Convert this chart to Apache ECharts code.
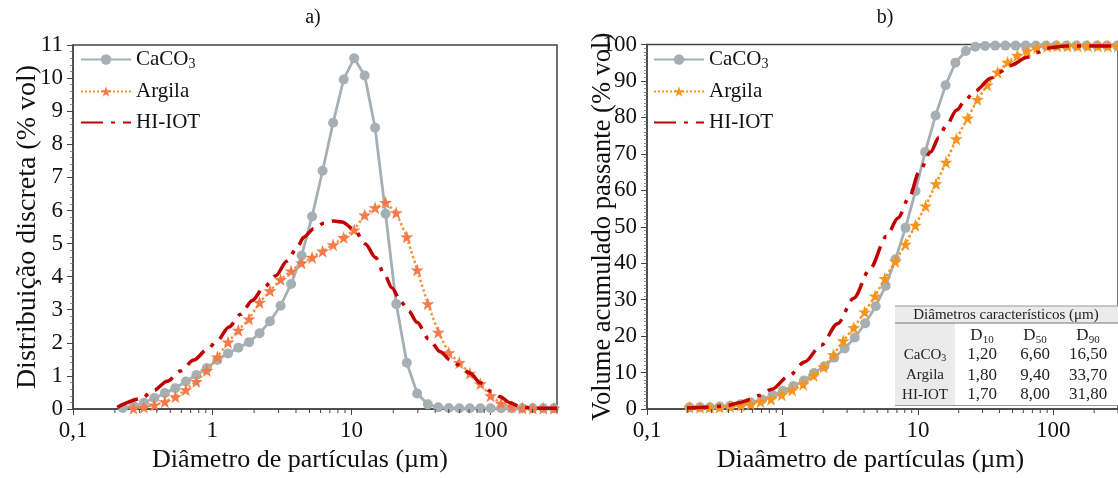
<!DOCTYPE html>
<html>
<head>
<meta charset="utf-8">
<script src="https://cdn.jsdelivr.net/npm/echarts@6/dist/echarts.min.js"></script>
<style>
html,body{margin:0;padding:0;background:#fff;}
#c{width:1118px;height:478px;}
</style>
</head>
<body>
<div id="c"></div>
<script>
// ---------- Data: (a) discrete distribution ----------
var gridDiamA = [0.228,0.272,0.323,0.384,0.457,0.544,0.647,0.77,0.916,1.09,1.30,1.54,1.84,2.19,2.6,3.1,3.69,4.39,5.22,6.21,7.39,8.8,10.47,12.46,14.8,17.6,21,25,29.7,35.4,42.1,50.1,59.6,70.9,84.4,100,119,142,169,201,239,285];
var caco3VolA = [0.03,0.09,0.19,0.33,0.48,0.63,0.83,1.03,1.24,1.48,1.68,1.85,2.02,2.29,2.65,3.12,3.78,4.64,5.82,7.20,8.65,9.96,10.60,10.08,8.50,5.90,3.17,1.40,0.47,0.14,0.05,0.03,0.02,0.02,0.02,0.02,0.02,0.02,0.02,0.02,0.02,0.02];
var argilaDiamA = [0.272,0.323,0.384,0.457,0.544,0.647,0.77,0.916,1.09,1.30,1.54,1.84,2.19,2.6,3.1,3.69,4.39,5.22,6.21,7.39,8.8,10.47,12.46,14.8,17.6,21,25,29.7,35.4,42.1,50.1,59.6,70.9,84.4,100,119,142,169,201,239,285];
var argilaVolA = [0.02,0.05,0.12,0.22,0.37,0.58,0.83,1.16,1.57,2.02,2.38,2.72,3.22,3.57,3.91,4.17,4.41,4.58,4.77,4.96,5.18,5.41,5.86,6.08,6.24,5.93,5.20,4.20,3.18,2.32,1.70,1.40,1.08,0.76,0.40,0.17,0.07,0.03,0.02,0.02,0.02];
var hiiotDiamA = [0.208,0.306,0.381,0.475,0.592,0.738,0.921,1.09,1.32,1.60,1.94,2.35,2.85,3.45,4.08,4.55,5.36,6.33,7.46,8.57,10.4,12.6,14.9,17.1,19.6,22.5,25.8,29.6,35.9,43.5,51.4,58.9,71.4,84.3,99.5,117,138,163,204,300];
var hiiotVolA = [0.05,0.31,0.56,0.84,1.15,1.48,1.80,2.07,2.48,2.86,3.28,3.67,4.02,4.47,4.89,5.19,5.45,5.61,5.68,5.65,5.44,4.99,4.58,4.10,3.66,3.26,2.96,2.62,2.12,1.73,1.48,1.33,1.08,0.79,0.54,0.37,0.19,0.07,0.02,0.02];

// ---------- Data: (b) cumulative passing ----------
var caco3DiamB = [0.206,0.246,0.291,0.344,0.411,0.493,0.583,0.708,0.847,1.005,1.20,1.44,1.71,2.04,2.41,2.88,3.42,4.08,4.88,5.78,6.83,8.1,9.6,11.3,13.5,16.0,18.9,22.6,26.5,31.3,37.2,44.2,52.6,62.5,74.3,88.3,105,125,148,176,210,249,296];
var caco3CumB = [0.5,0.5,0.5,0.7,0.9,1.3,1.8,2.6,3.8,5.0,6.3,7.8,9.9,11.7,14.1,16.6,19.6,23.5,28.2,33.8,41.1,49.7,59.8,70.5,80.5,88.8,95.0,98.2,99.4,99.6,99.7,99.7,99.7,99.7,99.7,99.7,99.7,99.7,99.7,99.7,99.7,99.7,99.7];
var argilaDiamB = [0.206,0.246,0.291,0.344,0.411,0.493,0.583,0.689,0.823,0.988,1.18,1.42,1.70,2.01,2.38,2.81,3.36,4.04,4.83,5.70,6.81,8.09,9.57,11.4,13.6,16.1,19.2,23.3,27.5,32.5,38.8,45.9,54.2,64.1,75.7,90,107,127,151,180,213,253,300];
var argilaCumB = [0.5,0.5,0.5,0.5,0.7,1.0,1.4,2.0,2.7,3.9,5.2,6.8,9.2,11.5,14.9,18.7,22.3,26.6,31.0,35.8,40.5,45.2,50.4,55.7,61.8,67.7,74.1,79.8,84.9,88.9,92.4,95.1,97.0,98.2,99.1,99.5,99.6,99.6,99.6,99.6,99.6,99.6,99.6];
var hiiotDiamB = [0.197,0.275,0.385,0.48,0.58,0.67,0.837,1.10,1.46,1.93,2.55,3.36,4.44,5.86,7.13,8.65,10.2,12.4,14.3,16.0,19.4,22.3,26.3,34.8,39.9,48.5,64.1,75.7,89,125,300];
var hiiotCumB = [0.3,0.5,0.9,1.7,2.6,3.7,5.4,8.9,12.9,17.5,23.4,30.4,38.5,47.4,52.4,58.2,65.0,70.5,74.5,77.5,82.0,84.7,87.2,90.8,92.4,94.3,96.5,97.8,99.0,99.6,99.6];

// ---------- Table ----------
var tableTitle = 'Diâmetros característicos (μm)';
var tableCols = ['10','50','90'];
var tableRows = ['CaCO3','Argila','HI-IOT'];
var tableD10 = ['1,20','1,80','1,70'];
var tableD50 = ['6,60','9,40','8,00'];
var tableD90 = ['16,50','33,70','31,80'];

// ---------- Ticks / labels ----------
var minorTicksX = [0.2,0.3,0.4,0.5,0.6,0.7,0.8,0.9,2,3,4,5,6,7,8,9,20,30,40,50,60,70,80,90,200,300];
var xTitleA = 'Diâmetro de partículas (µm)';
var xTitleB = 'Diaâmetro de partículas (µm)';
var yTitleA = 'Distribuição discreta (% vol)';
var yTitleB = 'Volume acumulado passante (% vol)';

function pairs(xs, ys){ return xs.map(function(x,i){ return [x, ys[i]]; }); }

var FONT = '"Liberation Serif","Times New Roman",serif';
var AXC = '#444';
var GRAY = '#A6AFB3';
var RED = '#C00000';
var CORAL = '#F47A4C';
var CORAL_LINE = '#F0963C';
var ORANGE = '#F7941D';
var DASHDOT = [22,8,4,8];
var STAR = 'path://M50,0 L61.8,35.1 L98.9,35.5 L69.1,57.6 L80.2,93 L50,71.5 L19.8,93 L30.9,57.6 L1.1,35.5 L38.2,35.1 Z';

function xAxisCfg(idx, name, shiftPad){
  return {
    type:'log', gridIndex: idx, min:0.1, max:300, logBase:10,
    name: name, nameLocation:'middle', nameGap: 38, nameMoveOverlap:false,
    nameTextStyle:{fontFamily:FONT, fontSize:26, color:'#111', padding:[0, shiftPad, 0, 0]},
    axisLine:{show:true, onZero:false, lineStyle:{color:AXC, width:1.5}},
    axisTick:{show:true, length:6, lineStyle:{color:AXC, width:1}},
    minorTick:{show:false},
    splitLine:{show:false}, minorSplitLine:{show:false},
    axisLabel:{fontFamily:FONT, fontSize:23, color:'#111', margin:10, showMaxLabel:false,
      formatter:function(v){ return v > 200 ? '' : String(v).replace('.', ','); }}
  };
}
function yAxisCfg(idx, name, max, interval, minorSplit, gap, nameSize){
  return {
    type:'value', gridIndex: idx, min:0, max:max, interval:interval,
    name: name, nameLocation:'middle', nameGap: gap, nameMoveOverlap:false,
    nameTextStyle:{fontFamily:FONT, fontSize:nameSize, color:'#111'},
    axisLine:{show:true, lineStyle:{color:AXC, width:1.5}},
    axisTick:{show:true, length:6, lineStyle:{color:AXC, width:1}},
    minorTick:{show:true, splitNumber:minorSplit, length:3, lineStyle:{color:'#777', width:0.8}},
    splitLine:{show:false},
    axisLabel:{fontFamily:FONT, fontSize:23, color:'#111', margin:10}
  };
}

function legendCfg(left, argColor, argLine){
  return {
    orient:'vertical', left:left, top:49, padding:0, itemWidth:50, itemHeight:13, itemGap:10,
    textStyle:{fontFamily:FONT, fontSize:21, color:'#111',
      rich:{n:{fontFamily:FONT, fontSize:21, color:'#111'}, s:{fontFamily:FONT, fontSize:14, color:'#111', padding:[9,0,0,0]}}},
    formatter:function(name){ return name === 'CaCO3' ? '{n|CaCO}{s|3}' : name; },
    data:[
      {name:'CaCO3'},
      {name:'Argila', itemStyle:{color:argColor}, lineStyle:{color:argLine}},
      {name:'HI-IOT', itemStyle:{color:'rgba(0,0,0,0)', borderWidth:0, opacity:0}}
    ]
  };
}

function minorTickSeries(idx){
  return {
    type:'custom', xAxisIndex:idx, yAxisIndex:idx, silent:true, clip:false, z:10,
    data: minorTicksX.map(function(v){ return [v, 0]; }),
    renderItem:function(params, api){
      var p = api.coord([api.value(0), 0]);
      return {type:'line', shape:{x1:p[0], y1:p[1], x2:p[0], y2:p[1]+4}, style:{stroke:AXC, lineWidth:1}};
    }
  };
}

var chart = echarts.init(document.getElementById('c'), null, {renderer:'canvas'});

var tbX = 895, tbY = 306, tbW = 223;
var colX = [982, 1035, 1088];
var rowY = [355, 375.5, 395];
var graphics = [
  {type:'text', x:313, y:18, style:{text:'a)', font:'20px '+FONT, fill:'#111', align:'center', verticalAlign:'middle'}},
  {type:'text', x:885, y:18, style:{text:'b)', font:'20px '+FONT, fill:'#111', align:'center', verticalAlign:'middle'}},
  // table
  {type:'rect', shape:{x:tbX, y:tbY, width:tbW, height:100}, style:{fill:'#fff'}, z:50},
  {type:'rect', shape:{x:tbX, y:tbY, width:tbW, height:17}, style:{fill:'#EBEBEB'}, z:51},
  {type:'rect', shape:{x:tbX, y:tbY+17, width:60, height:82.5}, style:{fill:'#EBEBEB'}, z:51},
  {type:'line', shape:{x1:tbX, y1:tbY, x2:tbX+tbW, y2:tbY}, style:{stroke:'#999', lineWidth:1}, z:52},
  {type:'line', shape:{x1:tbX, y1:tbY+17, x2:tbX+tbW, y2:tbY+17}, style:{stroke:'#777', lineWidth:1}, z:52},
  {type:'line', shape:{x1:tbX, y1:tbY+99.5, x2:tbX+tbW, y2:tbY+99.5}, style:{stroke:'#999', lineWidth:1}, z:52},
  {type:'text', x:1006, y:tbY+9, z:53, style:{text:tableTitle, font:'15px '+FONT, fill:'#222', align:'center', verticalAlign:'middle'}}
];
tableCols.forEach(function(c, i){
  graphics.push({type:'text', x:colX[i], y:336, z:53, style:{
    text:'{d|D}{s|'+c+'}', align:'center', verticalAlign:'middle',
    rich:{d:{font:'17px '+FONT, fill:'#222'}, s:{font:'11px '+FONT, fill:'#222', padding:[8,0,0,0]}}}});
});
tableRows.forEach(function(r, i){
  var txt = r === 'CaCO3' ? '{n|CaCO}{s|3}' : '{n|'+r+'}';
  graphics.push({type:'text', x:925, y:rowY[i], z:53, style:{
    text:txt, align:'center', verticalAlign:'middle',
    rich:{n:{font:'15px '+FONT, fill:'#222'}, s:{font:'10px '+FONT, fill:'#222', padding:[7,0,0,0]}}}});
  [tableD10, tableD50, tableD90].forEach(function(col, j){
    graphics.push({type:'text', x:colX[j], y:rowY[i], z:53, style:{
      text:col[i], font:'17px '+FONT, fill:'#222', align:'center', verticalAlign:'middle'}});
  });
});

chart.setOption({
  animation:false,
  backgroundColor:'#fff',
  grid:[
    {left:73, top:45, width:484, height:371.5, show:true, borderColor:AXC, borderWidth:1.5, backgroundColor:'transparent'},
    {left:647, top:44.5, width:479, height:371.5, show:true, borderColor:AXC, borderWidth:1.5, backgroundColor:'transparent'}
  ],
  xAxis:[ xAxisCfg(0, xTitleA, 30), xAxisCfg(1, xTitleB, 24) ],
  yAxis:[ yAxisCfg(0, yTitleA, 11, 1, 5, 31, 28), yAxisCfg(1, yTitleB, 100, 10, 10, 30, 26.5) ],
  legend:[ legendCfg(80, CORAL, CORAL_LINE), legendCfg(653, ORANGE, ORANGE) ],
  graphic: graphics,
  series:[
    {name:'CaCO3', type:'line', xAxisIndex:0, yAxisIndex:0, data:pairs(gridDiamA, caco3VolA),
      symbol:'circle', symbolSize:10, itemStyle:{color:GRAY}, lineStyle:{color:GRAY, width:2.8}, z:2},
    {name:'Argila', type:'line', xAxisIndex:0, yAxisIndex:0, data:pairs(argilaDiamA, argilaVolA),
      symbol:STAR, symbolSize:13, itemStyle:{color:CORAL}, lineStyle:{color:CORAL_LINE, width:2.5, type:'dotted'}, z:3},
    {name:'HI-IOT', type:'line', xAxisIndex:0, yAxisIndex:0, data:pairs(hiiotDiamA, hiiotVolA),
      symbol:'none', smooth:0.3, smoothMonotone:'x', itemStyle:{color:RED}, lineStyle:{color:RED, width:3.5, type:DASHDOT}, z:4},
    {name:'CaCO3', type:'line', xAxisIndex:1, yAxisIndex:1, data:pairs(caco3DiamB, caco3CumB),
      symbol:'circle', symbolSize:10, itemStyle:{color:GRAY}, lineStyle:{color:GRAY, width:2.8}, z:2},
    {name:'Argila', type:'line', xAxisIndex:1, yAxisIndex:1, data:pairs(argilaDiamB, argilaCumB),
      symbol:STAR, symbolSize:13, itemStyle:{color:ORANGE}, lineStyle:{color:ORANGE, width:2.5, type:'dotted'}, z:3},
    {name:'HI-IOT', type:'line', xAxisIndex:1, yAxisIndex:1, data:pairs(hiiotDiamB, hiiotCumB),
      symbol:'none', smooth:0.3, smoothMonotone:'x', itemStyle:{color:RED}, lineStyle:{color:RED, width:3.5, type:DASHDOT}, z:4},
    minorTickSeries(0),
    minorTickSeries(1)
  ]
});
</script>
</body>
</html>
